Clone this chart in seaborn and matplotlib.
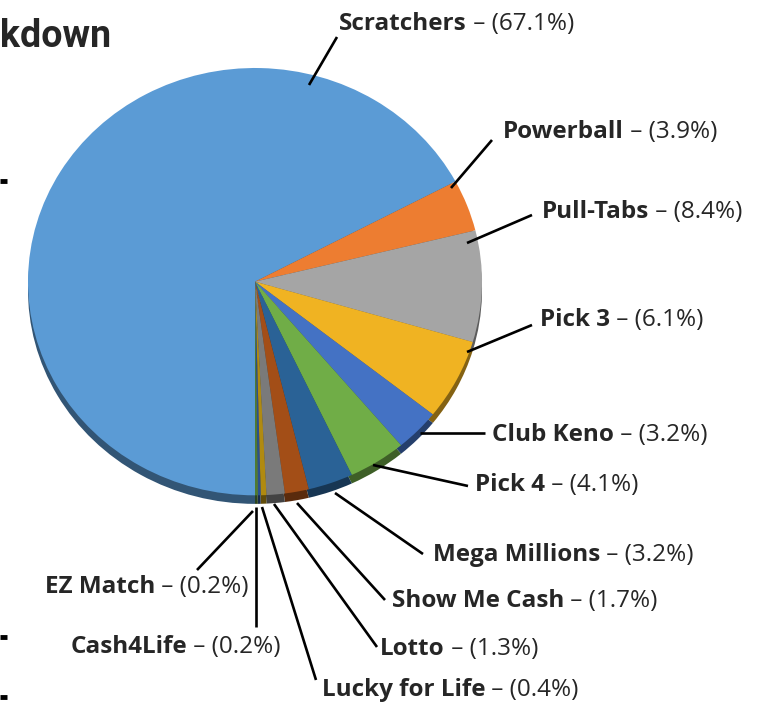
import matplotlib
matplotlib.use('Agg')
import matplotlib.pyplot as plt
import matplotlib.colors as mcolors
import seaborn as sns
import numpy as np

sns.set_theme(style='white')
plt.rcParams['font.family'] = ['Open Sans', 'DejaVu Sans']

# data
games = ['Scratchers', 'Powerball', 'Pull-Tabs', 'Pick 3', 'Club Keno', 'Pick 4',
         'Mega Millions', 'Show Me Cash', 'Lotto', 'Lucky for Life', 'Cash4Life', 'EZ Match']
shares = [67.1, 3.9, 8.4, 6.1, 3.2, 4.1, 3.2, 1.7, 1.3, 0.4, 0.2, 0.2]
colors = ['#5B9BD5', '#ED7D31', '#A5A5A5', '#F0B322', '#4472C4', '#70AD47',
          '#2A6296', '#A34E17', '#7A7A7A', '#B08A10', '#2B4F8C', '#4E7A32']

# label layout in pixels: text x, text y, alignment, leader start, leader end
label_pos = [(339, 24, 'left'), (503, 132, 'left'), (542, 212, 'left'), (540, 320, 'left'),
             (492, 435, 'left'), (475, 485, 'left'), (433, 555, 'left'), (392, 601, 'left'),
             (380, 649, 'left'), (322, 690, 'left'), (281, 647, 'right'), (249, 587, 'right')]
lead_from = [(309, 85), (451, 188), (467, 243), (467, 352), (420, 433), (373, 465),
             (335, 493), (297, 503), (274, 504), (262, 507), (256, 507), (253, 511)]
lead_to = [(337, 37), (492, 140), (532, 215), (532, 325), (485, 433), (468, 486),
           (423, 554), (385, 600), (377, 647), (316, 680), (256, 627), (197, 570)]

W, H = 765, 704
fig = plt.figure(figsize=(W / 100, H / 100), dpi=100)

# pie axes sized to the (slightly flattened) pie
cx, cy, rx, ry = 255, 287, 227, 219
pax = fig.add_axes([(cx - rx) / W, (H - cy - ry) / H, 2 * rx / W, 2 * ry / H])
dark = [tuple(np.array(mcolors.to_rgb(c)) * 0.55) for c in colors]
# rim / depth
pax.pie(shares, colors=dark, startangle=90, counterclock=True, center=(0, 0.04),
        wedgeprops=dict(linewidth=0))
pax.pie(shares, colors=colors, startangle=90, counterclock=True,
        wedgeprops=dict(linewidth=0))
pax.set_aspect('auto')
pax.set_xlim(-1, 1)
pax.set_ylim(1.05, -1)
pax.axis('off')

# overlay axes in pixel units for labels
ax = fig.add_axes([0, 0, 1, 1])
ax.set_xlim(0, W)
ax.set_ylim(H, 0)
ax.axis('off')
ax.patch.set_alpha(0)

fs = 17.5
for name, v, (tx, ty, ha), p0, p1 in zip(games, shares, label_pos, lead_from, lead_to):
    ax.plot([p0[0], p1[0]], [p0[1], p1[1]], color='black', lw=1.9, solid_capstyle='butt')
    rest = ' \u2013 (%.1f%%)' % v
    if ha == 'left':
        t = ax.text(tx, ty, name, fontsize=fs, fontweight='bold', ha='left', va='center')
        ax.annotate(rest, xy=(1, 0.5), xycoords=t, fontsize=fs, ha='left', va='center')
    else:
        t = ax.text(tx, ty, rest, fontsize=fs, ha='right', va='center')
        ax.annotate(name, xy=(0, 0.5), xycoords=t, fontsize=fs, fontweight='bold',
                    ha='right', va='center')

# visible tail of the title
ax.text(0, 47, 'kdown', fontsize=27, fontweight='bold', fontstretch='condensed',
        ha='left', va='baseline', family=['Roboto', 'DejaVu Sans'])

# bits of cut-off text at the left edge
for yy in [181, 637, 697]:
    ax.plot([0, 7], [yy, yy], color='black', lw=3.5, solid_capstyle='butt', clip_on=False)

fig.savefig('out.png', dpi=100)
